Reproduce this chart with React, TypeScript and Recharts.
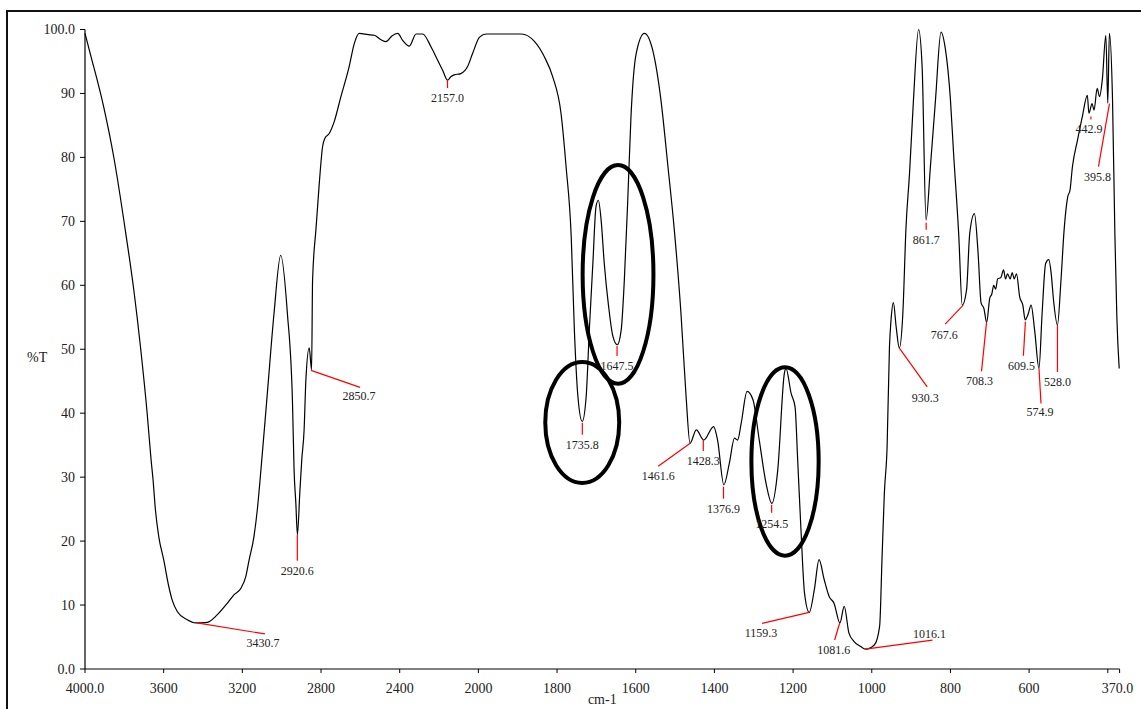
import {
  Line,
  LineChart,
  ReferenceArea,
  ReferenceDot,
  XAxis,
  YAxis,
} from "recharts";

// wavenumber (cm-1) and %T, high -> low wavenumber
const wavenumbers = [
  4000, 3973, 3905, 3854, 3795, 3752, 3718, 3684, 3664, 3654, 3642, 3625, 3600, 3574, 3557, 3531,
  3480, 3438, 3378, 3327, 3276, 3243, 3208, 3183, 3166, 3141, 3124, 3107,
  3073, 3039, 3005, 2971, 2945, 2937, 2928, 2920, 2908, 2898,
  2886, 2877, 2860, 2848, 2843, 2826, 2809, 2792, 2780, 2759, 2733, 2699, 2657, 2631, 2606, 2560,
  2529, 2495, 2470, 2440, 2410, 2385, 2351, 2317, 2283, 2241, 2207, 2180, 2157, 2140, 2123, 2089,
  2055, 2030, 1997, 1980, 1891, 1857, 1832, 1811, 1790, 1777, 1764, 1756, 1747, 1736, 1726, 1718,
  1709, 1701, 1695, 1688, 1680, 1669, 1658, 1647, 1637, 1629, 1620, 1612, 1599, 1578, 1557, 1536,
  1518, 1502, 1485, 1472, 1462, 1446, 1427, 1402, 1392, 1376, 1362, 1349, 1341, 1332, 1317, 1302,
  1286, 1269, 1254, 1239, 1222, 1218, 1205, 1195, 1188, 1180, 1171, 1159, 1146, 1134, 1121, 1108,
  1096, 1081, 1070, 1058, 1045, 1028, 1016, 993, 980, 974, 968, 961, 955, 951, 945, 938,
  930, 921, 913, 904, 894, 881, 872, 862, 851, 838, 824, 813, 800, 792, 779, 770,
  759, 751, 739, 730, 722, 715, 708, 700, 695, 690, 685, 680, 672, 665, 660, 655,
  648, 643, 638, 632, 624, 616, 610, 603, 595, 586, 575, 567, 558, 550, 544, 538,
  528, 519, 511, 502, 496, 490, 477, 465, 452, 448, 440, 435, 427, 421, 414, 405,
  400, 396, 388, 382, 377, 371,
];
const transmittance = [
  99.4, 96.2, 87.9, 80.1, 68.6, 59.3, 50.4, 40.0, 32.7, 29.6, 24.9, 20.7, 17.1, 12.9, 10.8, 9.0,
  7.7, 7.2, 7.3, 8.5, 10.3, 11.6, 12.6, 14.4, 17.0, 20.7, 24.9, 30.6,
  43.1, 55.6, 64.7, 55.6, 41.6, 31.1, 25.9, 21.0, 27.5, 32.7,
  37.4, 45.2, 50.2, 46.8, 60.8, 68.7, 75.9, 81.7, 83.0, 83.7, 85.6, 89.5, 94.2, 97.8, 99.4, 99.2,
  99.1, 98.4, 98.1, 99.0, 99.4, 98.3, 97.4, 99.3, 99.3, 97.3, 95.2, 93.5, 92.1, 92.6, 92.9, 93.1,
  94.2, 96.2, 98.8, 99.3, 99.3, 98.1, 95.7, 92.6, 86.9, 78.5, 67.6, 53.0, 42.6, 38.7, 42.6, 53.0,
  63.4, 72.3, 73.3, 70.2, 63.4, 56.7, 52.0, 50.7, 53.0, 60.8, 73.8, 86.5, 96.2, 99.4, 96.8, 89.0,
  78.5, 68.7, 55.6, 42.6, 35.3, 37.4, 35.8, 37.9, 35.8, 28.8, 32.2, 36.1, 35.8, 38.4, 43.4, 42.1,
  35.8, 29.1, 25.9, 31.1, 46.3, 47.0, 43.1, 41.0, 32.2, 21.8, 11.9, 8.85, 12.4, 17.1, 14.0, 11.3,
  10.3, 7.2, 9.8, 5.6, 4.3, 3.5, 3.1, 3.8, 6.7, 17.1, 27.5, 34.8, 50.4, 54.6, 57.3, 53.5,
  50.2, 55.6, 69.0, 77.5, 89.0, 100.0, 94.2, 70.2, 78.5, 89.0, 99.6, 97.0, 89.0, 80.6, 68.0, 56.9,
  59.3, 68.1, 71.2, 65.3, 57.2, 56.4, 54.2, 58.0, 58.6, 60.0, 59.4, 61.0, 61.2, 62.4, 61.0, 61.8,
  61.0, 62.0, 61.0, 61.8, 58.2, 56.9, 54.6, 55.4, 56.9, 53.0, 47.0, 55.6, 63.4, 64.0, 61.9, 57.7,
  53.8, 60.8, 68.7, 73.8, 74.9, 78.5, 82.7, 86.3, 89.7, 86.9, 88.4, 87.4, 90.8, 89.5, 92.1, 99.1,
  88.5, 99.4, 89.0, 68.0, 55.0, 47.0,
];

// labelled peaks
const peakLabels = [
  "3430.7", "2920.6", "2850.7", "2157.0", "1735.8", "1647.5", "1461.6", "1428.3", "1376.9", "1254.5", "1159.3",
  "1081.6", "1016.1", "930.3", "861.7", "767.6", "708.3", "609.5", "574.9", "528.0", "442.9", "395.8",
];
const peakT = [
  7.2, 21.0, 46.7, 92.1, 38.5, 50.5, 35.3, 35.8, 28.5, 25.7, 8.85,
  7.2, 3.1, 50.2, 69.8, 56.9, 54.2, 54.3, 47.0, 53.8, 86.4, 88.4,
];

// circled regions: wavenumber span and %T span
const circleWn = [[1830, 1642], [1735, 1555], [1306, 1135]];
const circleT = [[29.1, 48.0], [44.6, 78.8], [17.7, 47.2]];

const xTicks = [4000, 3600, 3200, 2800, 2400, 2000, 1800, 1600, 1400, 1200, 1000, 800, 600, 400, 370];
const xTickLabels = ["4000.0", "3600", "3200", "2800", "2400", "2000", "1800", "1600", "1400", "1200", "1000", "800", "600", "", "370.0"];
const yTicks = [0, 10, 20, 30, 40, 50, 60, 70, 80, 90, 100];
const yTickLabels = ["0.0", "10", "20", "30", "40", "50", "60", "70", "80", "90", "100.0"];

// the instrument halves the scale above 2000 cm-1
const pos = (wn: number) => (wn >= 2000 ? (4000 - wn) / 2 : 1000 + (2000 - wn));

// leader end / text centre offsets (px) from each peak
const leaderOffsets = [
  [68, 11, 66, 20], [0, 26, 0, 36], [49, 17, 48, 26], [0, 8, 0, 18], [0, 12, 0, 22], [0, 10, 0, 20],
  [-32, 23, -32, 33], [0, 11, 0, 21], [0, 12, 0, 22], [0, 8, 0, 19], [-47, 11, -48, 21], [-5, 17, -6, 27],
  [67, -9, 64, -15], [28, 39, 26, 50], [0, 7, 0, 17], [-18, 19, -19, 30], [-5, 49, -7, 59], [-2, 34, -4, 44],
  [2, 35, 1, 44], [0, 47, 0, 57], [0, 3, -2, 13], [-11, 63, -12, 73],
];

const data = wavenumbers.map((wn, i) => ({ p: pos(wn), wn, t: transmittance[i] }));
const tickPos = xTicks.map(pos);
const serif = "'Liberation Serif', 'Times New Roman', serif";

function PeakMark({ cx, cy, label, off }: { cx?: number; cy?: number; label: string; off: number[] }) {
  if (cx == null || cy == null) return null;
  const [dx, dy, tx, ty] = off;
  return (
    <g>
      <line x1={cx} y1={cy} x2={cx + dx} y2={cy + dy} stroke="#ff0000" strokeWidth={1.2} />
      <text
        x={cx + tx}
        y={cy + ty + 4}
        textAnchor="middle"
        fontSize={12}
        fontFamily={serif}
        fill="#222"
      >
        {label}
      </text>
    </g>
  );
}

function XTick(props: any) {
  const { x, y, payload } = props;
  const label = xTickLabels[tickPos.indexOf(payload.value)] ?? "";
  const shift = label === "370.0" ? -2 : 0;
  return (
    <text x={x + shift} y={y + 18} textAnchor="middle" fontSize={14} fontFamily={serif} fill="#222">
      {label}
    </text>
  );
}

function Ellipse(props: any) {
  const { x, y, width, height } = props;
  return (
    <ellipse
      cx={x + width / 2}
      cy={y + height / 2}
      rx={Math.abs(width) / 2}
      ry={Math.abs(height) / 2}
      fill="none"
      stroke="#000"
      strokeWidth={4}
    />
  );
}

export default function App() {
  return (
    <div
      style={{
        position: "fixed",
        left: 0,
        top: 0,
        width: 1141,
        height: 709,
        overflow: "hidden",
        background: "#fff",
      }}
    >
      <LineChart
        width={1141}
        height={709}
        data={data}
        margin={{ top: 29.5, right: 21.4, bottom: 0, left: 0 }}
        style={{ position: "absolute", left: 0, top: 0 }}
      >
        <XAxis
          type="number"
          dataKey="p"
          domain={[0, 2630]}
          ticks={tickPos}
          interval={0}
          tick={<XTick />}
          tickSize={4}
          axisLine={{ stroke: "#000", strokeWidth: 1.2 }}
          tickLine={{ stroke: "#000" }}
          height={40}
          label={{ value: "cm-1", position: "insideBottom", offset: 5, fontSize: 14, fill: "#222", fontFamily: serif }}
        />
        <YAxis
          type="number"
          domain={[0, 100]}
          ticks={yTicks}
          interval={0}
          tickFormatter={(v: number) => yTickLabels[yTicks.indexOf(v)] ?? ""}
          tick={{ fontSize: 14, fill: "#222", fontFamily: serif }}
          tickSize={5}
          tickMargin={5}
          width={85}
          axisLine={{ stroke: "#000", strokeWidth: 1.2 }}
          tickLine={{ stroke: "#000" }}
          label={{ value: "%T", position: "insideLeft", offset: 27, dy: 8, fontSize: 14, fill: "#222", fontFamily: serif }}
        />
        <Line
          type="monotone"
          dataKey="t"
          stroke="#000"
          strokeWidth={1.2}
          dot={false}
          isAnimationActive={false}
        />
        {circleWn.map((span, i) => (
          <ReferenceArea
            key={"c" + i}
            x1={pos(span[0])}
            x2={pos(span[1])}
            y1={circleT[i][0]}
            y2={circleT[i][1]}
            ifOverflow="visible"
            shape={Ellipse}
          />
        ))}
        {peakLabels.map((label, i) => (
          <ReferenceDot
            key={label}
            x={pos(parseFloat(label))}
            y={peakT[i]}
            r={0}
            ifOverflow="visible"
            shape={(p: any) => <PeakMark cx={p.cx} cy={p.cy} label={label} off={leaderOffsets[i]} />}
          />
        ))}
      </LineChart>
      {/* outer frame: left and top edges */}
      <div style={{ position: "absolute", left: 6, top: 10, width: 2, height: 720, background: "#111" }} />
      <div style={{ position: "absolute", left: 6, top: 10, width: 1200, height: 2, background: "#111" }} />
    </div>
  );
}
